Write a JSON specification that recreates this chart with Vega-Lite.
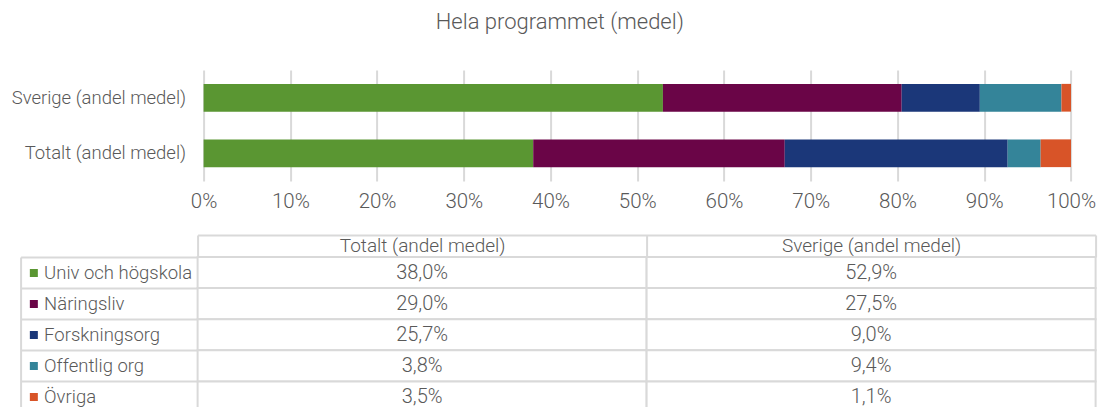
{
  "$schema": "https://vega.github.io/schema/vega-lite/v6.json",
  "background": "white",
  "padding": {"left": 10.6, "top": 11, "right": 2, "bottom": 0},
  "title": {"text": "Hela programmet (medel)", "fontSize": 22, "font": "Roboto", "fontWeight": 300, "color": "#595959", "anchor": "middle", "offset": 36, "dx": 6},
  "data": {"values": [
    {"serie": "Totalt (andel medel)", "kategori": "Univ och högskola", "andel": 0.380},
    {"serie": "Totalt (andel medel)", "kategori": "Näringsliv", "andel": 0.290},
    {"serie": "Totalt (andel medel)", "kategori": "Forskningsorg", "andel": 0.257},
    {"serie": "Totalt (andel medel)", "kategori": "Offentlig org", "andel": 0.038},
    {"serie": "Totalt (andel medel)", "kategori": "Övriga", "andel": 0.035},
    {"serie": "Sverige (andel medel)", "kategori": "Univ och högskola", "andel": 0.529},
    {"serie": "Sverige (andel medel)", "kategori": "Näringsliv", "andel": 0.275},
    {"serie": "Sverige (andel medel)", "kategori": "Forskningsorg", "andel": 0.090},
    {"serie": "Sverige (andel medel)", "kategori": "Offentlig org", "andel": 0.094},
    {"serie": "Sverige (andel medel)", "kategori": "Övriga", "andel": 0.011}
  ]},
  "bounds": "flush",
  "spacing": 76,
  "vconcat": [
    {
      "width": 898,
      "height": 111,
      "transform": [{"window": [{"op": "row_number", "as": "ordning"}], "groupby": ["serie"]}],
      "mark": {"type": "bar"},
      "encoding": {
        "y": {
          "field": "serie", "type": "nominal",
          "sort": ["Sverige (andel medel)", "Totalt (andel medel)"],
          "scale": {"paddingInner": 0.5, "paddingOuter": 0.25},
          "axis": {"title": null, "domain": false, "ticks": false, "labelPadding": 12, "labelFontSize": 18.5, "labelColor": "#595959", "labelFont": "Roboto", "labelFontWeight": 300, "labelLimit": 0}
        },
        "x": {
          "field": "andel", "type": "quantitative", "stack": "normalize",
          "scale": {"domain": [-0.00692, 1.02836], "nice": false, "zero": false},
          "axis": {"title": null, "values": [0, 0.1, 0.2, 0.3, 0.4, 0.5, 0.6, 0.7, 0.8, 0.9, 1], "format": ".0%", "domain": false, "ticks": false, "grid": true, "gridColor": "#d9d9d9", "gridWidth": 2, "labelFontSize": 20.5, "labelPadding": 11, "labelColor": "#595959", "labelFont": "Roboto", "labelFontWeight": 300, "labelFlush": false}
        },
        "order": {"field": "ordning", "type": "quantitative", "sort": "ascending"},
        "color": {
          "field": "kategori", "type": "nominal",
          "sort": ["Univ och högskola", "Näringsliv", "Forskningsorg", "Offentlig org", "Övriga"],
          "scale": {"domain": ["Univ och högskola", "Näringsliv", "Forskningsorg", "Offentlig org", "Övriga"], "range": ["#5a9632", "#6a0547", "#1b3779", "#348499", "#d85428"]},
          "legend": {"orient": "none", "legendX": -173, "legendY": 188, "title": null, "symbolType": "square", "symbolSize": 64, "symbolStrokeWidth": 0, "labelFontSize": 18.5, "labelColor": "#595959", "labelFont": "Roboto", "labelFontWeight": 300, "clipHeight": 30.2, "rowPadding": 0, "padding": 0, "labelOffset": 1}
        }
      }
    },
    {
      "width": 898,
      "height": 155.5,
      "layer": [
        {
          "mark": {"type": "rect", "fill": "white", "stroke": "#d9d9d9", "strokeWidth": 2},
          "encoding": {
            "x": {
              "field": "serie", "type": "nominal",
              "sort": ["Totalt (andel medel)", "Sverige (andel medel)"],
              "scale": {"paddingInner": 0, "paddingOuter": 0},
              "axis": {"orient": "top", "title": null, "offset": 22, "tickSize": -22, "tickBand": "extent", "domain": true, "domainColor": "#d9d9d9", "domainWidth": 2, "tickColor": "#d9d9d9", "tickWidth": 2, "labelBaseline": "middle", "labelPadding": 11, "labelAngle": 0, "labelFontSize": 19, "labelColor": "#595959", "labelFont": "Roboto", "labelFontWeight": 300}
            },
            "y": {
              "field": "kategori", "type": "nominal",
              "sort": ["Univ och högskola", "Näringsliv", "Forskningsorg", "Offentlig org", "Övriga"],
              "scale": {"paddingInner": 0, "paddingOuter": 0},
              "axis": {"title": null, "offset": 177, "tickSize": -177, "tickBand": "extent", "labels": false, "domain": true, "domainColor": "#d9d9d9", "domainWidth": 2, "tickColor": "#d9d9d9", "tickWidth": 2}
            }
          }
        },
        {
          "mark": {"type": "text", "fontSize": 20, "fontWeight": 300, "color": "#595959", "font": "Roboto"},
          "encoding": {
            "x": {"field": "serie", "type": "nominal", "sort": ["Totalt (andel medel)", "Sverige (andel medel)"]},
            "y": {"field": "kategori", "type": "nominal", "sort": ["Univ och högskola", "Näringsliv", "Forskningsorg", "Offentlig org", "Övriga"]},
            "text": {"field": "andel", "type": "quantitative", "format": ".1%"}
          }
        }
      ]
    }
  ],
  "config": {
    "view": {"stroke": null},
    "font": "Roboto",
    "locale": {"number": {"decimal": ",", "thousands": " ", "grouping": [3], "currency": ["", " kr"]}}
  }
}
